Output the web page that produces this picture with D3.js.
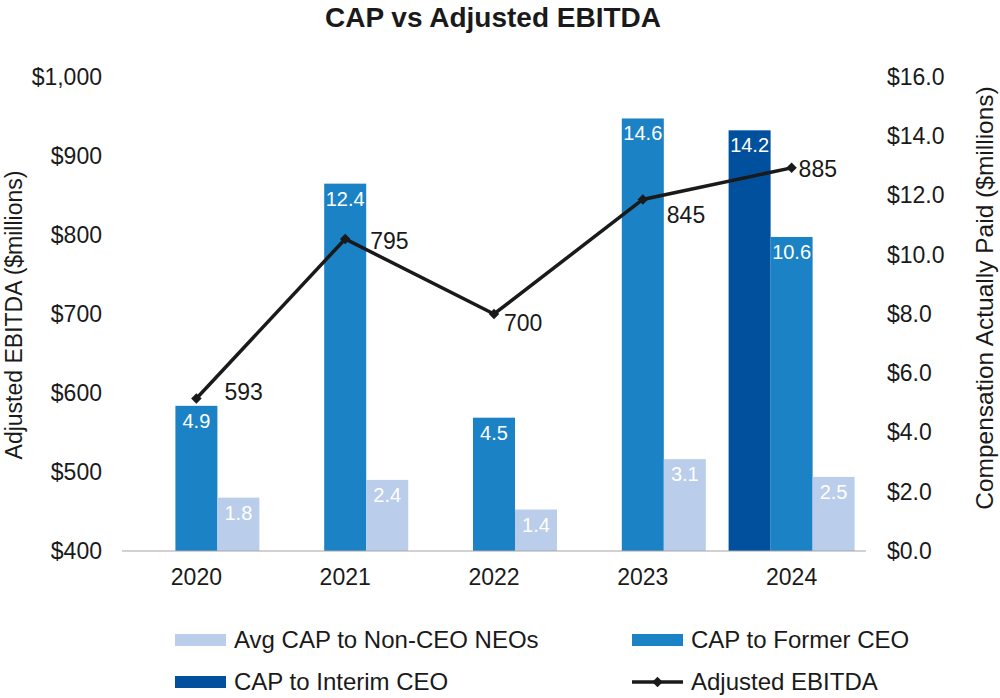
<!DOCTYPE html>
<html>
<head>
<meta charset="UTF-8">
<title>CAP vs Adjusted EBITDA</title>
<script src="https://d3js.org/d3.v7.min.js"></script>
<style>
  body { margin: 0; background: #fff; }
  svg text { font-family: "Liberation Sans", Arial, sans-serif; }
</style>
</head>
<body>
<div id="chart"></div>
<script>
// chart data
var years = ["2020", "2021", "2022", "2023", "2024"];
var interimCEO = [null, null, null, null, 14.2];
var formerCEO = [4.9, 12.4, 4.5, 14.6, 10.6];
var nonCEO = [1.8, 2.4, 1.4, 3.1, 2.5];
var ebitda = [593, 795, 700, 845, 885];
var leftTicks = [400, 500, 600, 700, 800, 900, 1000];
var rightTicks = [0, 2, 4, 6, 8, 10, 12, 14, 16];

// hand placed offsets for the EBITDA labels (like the original)
var lblDx = [28, 25, 10, 24, 7];
var lblDy = [-7, 2, 9, 15, 1];

var W = 1000, H = 698;
var pLeft = 122, pRight = 866, pTop = 77, pBottom = 551;
var ink = "#1a1a1a";

var svg = d3.select("#chart").append("svg")
    .attr("width", W).attr("height", H);

// scales
var x = d3.scaleBand().domain(years).range([pLeft, pRight]);
var slot = d3.scaleBand().domain(["interim", "former", "non"])
    .range([0, 126]);
var yL = d3.scaleLinear().domain([400, 1000]).range([pBottom, pTop]);
var yR = d3.scaleLinear().domain([0, 16]).range([pBottom, pTop]);

var series = [
  { key: "interim", values: interimCEO, color: "#00509e" },
  { key: "former", values: formerCEO, color: "#1b82c5" },
  { key: "non", values: nonCEO, color: "#bacdea" }
];

function slotX(year, key) {
  return x(year) + (x.bandwidth() - 126) / 2 + slot(key);
}

// bars
series.forEach(function(s) {
  var g = svg.append("g");
  var pts = years.map(function(y, i) { return { year: y, v: s.values[i] }; })
      .filter(function(d) { return d.v != null; });
  g.selectAll("rect").data(pts).enter().append("rect")
      .attr("x", function(d) { return slotX(d.year, s.key); })
      .attr("y", function(d) { return yR(d.v); })
      .attr("width", slot.bandwidth())
      .attr("height", function(d) { return yR(0) - yR(d.v); })
      .attr("fill", s.color);
  g.selectAll("text").data(pts).enter().append("text")
      .attr("x", function(d) { return slotX(d.year, s.key) + slot.bandwidth() / 2; })
      .attr("y", function(d) { return yR(d.v) + 22; })
      .attr("text-anchor", "middle")
      .attr("font-size", 20)
      .attr("fill", "#fff")
      .text(function(d) { return d3.format(".1f")(d.v); });
});

// baseline
svg.append("line")
    .attr("x1", pLeft).attr("x2", pRight)
    .attr("y1", pBottom).attr("y2", pBottom)
    .attr("stroke", "#a6a6a6").attr("stroke-width", 1.2);

function styleAxis(g) {
  g.select(".domain").remove();
  g.selectAll("text").attr("font-size", 23).attr("fill", ink)
      .attr("font-family", "Liberation Sans, Arial, sans-serif");
}

// left axis
svg.append("g")
    .attr("transform", "translate(" + (pLeft - 20) + ",0)")
    .call(d3.axisLeft(yL).tickValues(leftTicks).tickSize(0).tickPadding(0)
      .tickFormat(function(d) { return "$" + d3.format(",")(d); }))
    .call(styleAxis);

// right axis
svg.append("g")
    .attr("transform", "translate(" + (pRight + 21) + ",0)")
    .call(d3.axisRight(yR).tickValues(rightTicks).tickSize(0).tickPadding(0)
      .tickFormat(function(d) { return "$" + d3.format(".1f")(d); }))
    .call(styleAxis);

// x axis
svg.append("g")
    .attr("transform", "translate(0," + pBottom + ")")
    .call(d3.axisBottom(x).tickSize(0).tickPadding(18))
    .call(styleAxis);

// EBITDA line
var line = d3.line()
    .x(function(d, i) { return x(years[i]) + x.bandwidth() / 2; })
    .y(function(d) { return yL(d); });
svg.append("path").datum(ebitda)
    .attr("d", line)
    .attr("fill", "none")
    .attr("stroke", ink)
    .attr("stroke-width", 3.5);

var diamond = d3.symbol().type(d3.symbolDiamond2).size(70);
svg.selectAll(".pt").data(ebitda).enter().append("path")
    .attr("class", "pt")
    .attr("d", diamond)
    .attr("transform", function(d, i) {
      return "translate(" + (x(years[i]) + x.bandwidth() / 2) + "," + yL(d) + ")";
    })
    .attr("fill", ink);

svg.selectAll(".lbl").data(ebitda).enter().append("text")
    .attr("class", "lbl")
    .attr("x", function(d, i) { return x(years[i]) + x.bandwidth() / 2 + lblDx[i]; })
    .attr("y", function(d, i) { return yL(d) + lblDy[i]; })
    .attr("dy", "0.35em")
    .attr("font-size", 23)
    .attr("fill", ink)
    .text(function(d) { return d; });

// title
svg.append("text")
    .attr("x", 493).attr("y", 27)
    .attr("text-anchor", "middle")
    .attr("font-size", 28).attr("font-weight", "bold")
    .attr("fill", ink)
    .text("CAP vs Adjusted EBITDA");

// axis titles
svg.append("text")
    .attr("transform", "translate(22,315) rotate(-90)")
    .attr("text-anchor", "middle")
    .attr("font-size", 23).attr("fill", ink)
    .text("Adjusted EBITDA ($millions)");
svg.append("text")
    .attr("transform", "translate(993,298) rotate(-90)")
    .attr("text-anchor", "middle")
    .attr("font-size", 24.5).attr("fill", ink)
    .text("Compensation Actually Paid ($millions)");

// legend
var legend = [
  { label: "Avg CAP to Non-CEO NEOs", color: "#bacdea", x: 175, y: 640 },
  { label: "CAP to Former CEO", color: "#1b82c5", x: 632, y: 640 },
  { label: "CAP to Interim CEO", color: "#00509e", x: 175, y: 682 },
  { label: "Adjusted EBITDA", line: true, x: 632, y: 682 }
];
legend.forEach(function(l) {
  var g = svg.append("g").attr("transform", "translate(" + l.x + "," + l.y + ")");
  if (l.line) {
    g.append("line").attr("x1", 0).attr("x2", 51).attr("y1", 0).attr("y2", 0)
        .attr("stroke", ink).attr("stroke-width", 3.5);
    g.append("path").attr("d", diamond).attr("transform", "translate(25.5,0)")
        .attr("fill", ink);
  } else {
    g.append("rect").attr("x", 0).attr("y", -6).attr("width", 51).attr("height", 12)
        .attr("fill", l.color);
  }
  g.append("text").attr("x", 59).attr("dy", "0.35em")
      .attr("font-size", 24).attr("fill", ink)
      .text(l.label);
});
</script>
</body>
</html>
